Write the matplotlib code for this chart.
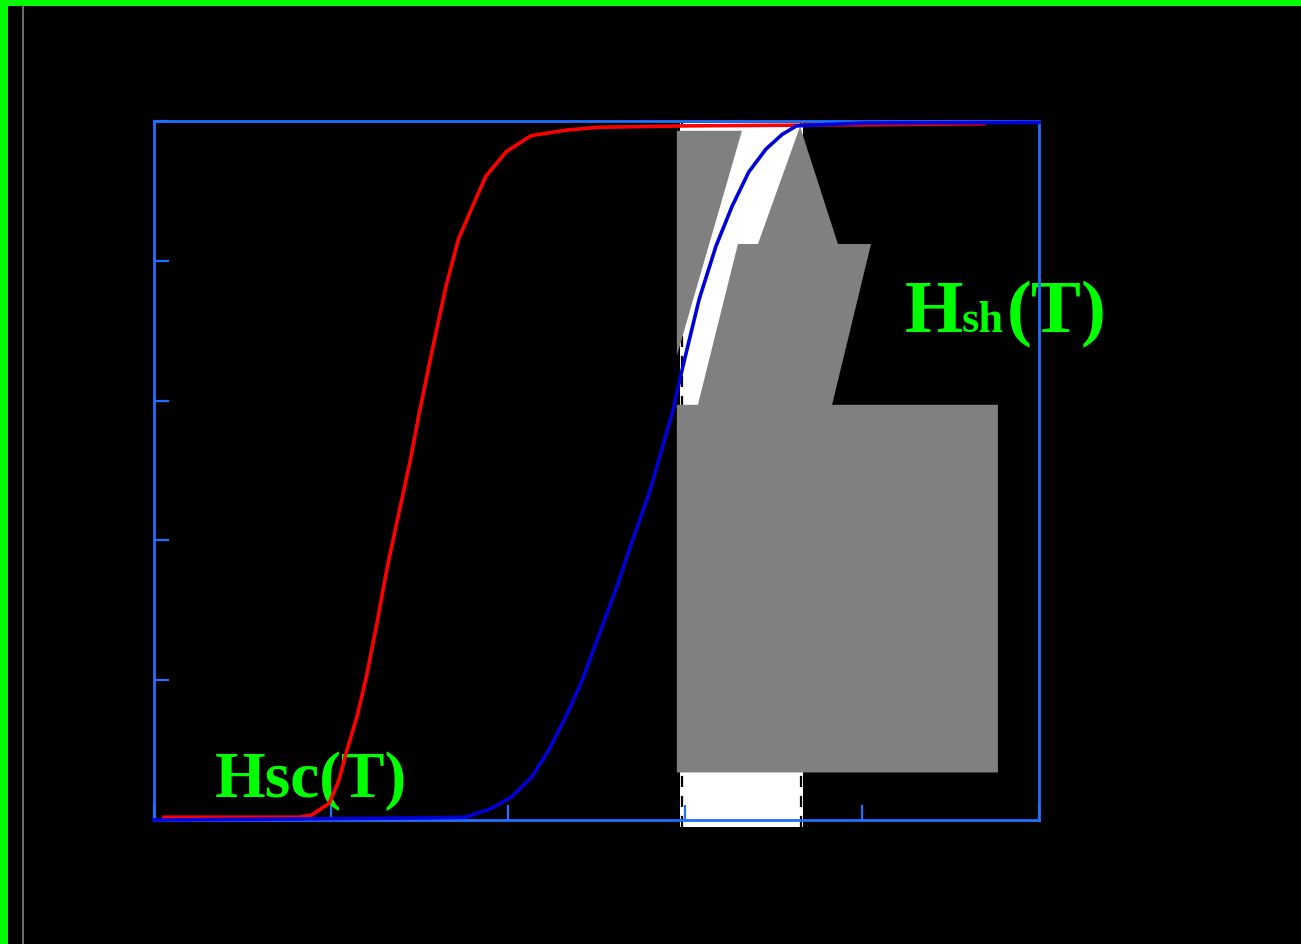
import matplotlib
matplotlib.use("Agg")
import matplotlib.pyplot as plt
from matplotlib.patches import Rectangle, Polygon
from matplotlib.lines import Line2D

# cumulative curves (T, fraction)
t_sc = [5.6, 82, 89, 99, 104.5, 109, 114.7, 120, 126, 131.8, 138.4, 144.6,
        149.7, 157, 165, 172, 180, 187.5, 199, 213, 233, 251, 300, 360, 420, 469]
f_sc = [0.004, 0.004, 0.007, 0.024, 0.057, 0.100, 0.148, 0.205, 0.282, 0.362,
        0.440, 0.512, 0.580, 0.670, 0.764, 0.831, 0.878, 0.921, 0.956, 0.979,
        0.987, 0.991, 0.993, 0.994, 0.995, 0.996]

t_sh = [0, 154, 176, 191, 202, 213.6, 223, 232.7, 242, 251, 261, 270.6, 279.7,
        287, 293, 298.9, 308, 317.5, 326.6, 336, 345.8, 355, 363, 400, 500]
f_sh = [0.0, 0.003, 0.004, 0.017, 0.033, 0.062, 0.100, 0.148, 0.200, 0.262,
        0.330, 0.402, 0.467, 0.531, 0.584, 0.650, 0.745, 0.821, 0.878, 0.927,
        0.960, 0.981, 0.993, 0.997, 0.998]

x_ticks = [0, 100, 200, 300, 400, 500]
x_labels = ["0", "100", "200", "300", "400", "500"]
y_ticks = [0, 0.2, 0.4, 0.6, 0.8, 1.0]
y_labels = ["0", "0.2", "0.4", "0.6", "0.8", "1"]

# highlighted band and the dashed limits
band = [297.2, 366.7]
band_y = [-0.010, 0.997]
dash_x = [298.3, 365.5]

# grey callout shapes (data units)
tri_x = [295.4, 332.2, 295.4]
tri_y = [0.986, 0.986, 0.664]
arrow_x = [295.4, 295.4, 307.3, 329.9, 341.2, 365.0, 386.4, 405.1, 383.1,
           476.8, 476.8]
arrow_y = [0.068, 0.594, 0.594, 0.824, 0.824, 0.992, 0.824, 0.824, 0.594,
           0.594, 0.068]

GREEN = "#00ff00"
SPINE = "#2070ff"
DARK = "#000000"  # text in the original is black on black

fig = plt.figure(figsize=(13.01, 9.45), dpi=100, facecolor="black")
ax = fig.add_axes([154 / 1301, 124 / 945, 885 / 1301, 699 / 945])
ax.set_facecolor("black")
ax.set_xlim(0, 500)
ax.set_ylim(0, 1)

ax.add_patch(Rectangle((band[0], band_y[0]), band[1] - band[0], band_y[1] - band_y[0],
                       facecolor="white", edgecolor="none", zorder=1, clip_on=False))
for xd in dash_x:
    ax.plot([xd, xd], band_y, color="black", linestyle=(0, (5, 4)), linewidth=1.6,
            zorder=1.5, clip_on=False)

ax.add_patch(Polygon(list(zip(tri_x, tri_y)), closed=True, facecolor="#808080",
                     edgecolor="none", zorder=2, clip_on=False))
ax.add_patch(Polygon(list(zip(arrow_x, arrow_y)), closed=True, facecolor="#808080",
                     edgecolor="none", zorder=2, clip_on=False))

ax.plot(t_sc, f_sc, color="#ff0000", linewidth=2.6, zorder=3, clip_on=False)
ax.plot(t_sh, f_sh, color="#0000d8", linewidth=2.6, zorder=3, clip_on=False)

# labels on the plot
ax.text(34.5, 0.034, "Hsc(T)", family="Liberation Serif", fontweight="bold",
        fontsize=47, color=GREEN, zorder=2.4, clip_on=False)
ax.text(424.3, 0.700, "H", family="Liberation Serif", fontweight="bold",
        fontsize=54, color=GREEN, zorder=2.4, clip_on=False)
ax.text(456.5, 0.700, "sh", family="Liberation Serif", fontweight="bold",
        fontsize=32, color=GREEN, zorder=2.4, clip_on=False)
ax.text(481.9, 0.700, "(T)", family="Liberation Serif", fontweight="bold",
        fontsize=54, color=GREEN, zorder=2.4, clip_on=False)
ax.text(385, 0.84, "Region", family="Liberation Serif", fontsize=22,
        color=DARK, zorder=1, ha="center")

for side in ["left", "right", "top", "bottom"]:
    ax.spines[side].set_color(SPINE)
    ax.spines[side].set_linewidth(2.0)
ax.set_xticks(x_ticks)
ax.set_xticklabels(x_labels)
ax.set_yticks(y_ticks)
ax.set_yticklabels(y_labels)
ax.tick_params(direction="in", length=11, width=1.6, color=SPINE,
               labelcolor=DARK, labelsize=26, pad=10)
for lab in ax.get_xticklabels() + ax.get_yticklabels():
    lab.set_family("Liberation Serif")
ax.set_xlabel("T (min)", family="Liberation Serif", fontsize=24, color=DARK)
ax.set_ylabel("Cumulative fraction", family="Liberation Serif", fontsize=24,
              color=DARK)

fig.text(0.42, 0.955, "Onset of hardening", family="Liberation Serif",
         fontsize=24, color=DARK, ha="center")
fig.text(0.42, 0.925, "Cumulative distribution of onset times for the 50 μm",
         family="Liberation Serif", fontsize=24, color=DARK, ha="center")

# slide frame: green bars and a thin grey rule
fig.patches.append(Rectangle((0, 1 - 7 / 945), 1, 7 / 945, transform=fig.transFigure,
                             facecolor=GREEN, edgecolor="none"))
fig.patches.append(Rectangle((0, 0), 7.5 / 1301, 1, transform=fig.transFigure,
                             facecolor=GREEN, edgecolor="none"))
fig.lines.append(Line2D([22.8 / 1301, 22.8 / 1301], [0, 1 - 7 / 945],
                        transform=fig.transFigure, color="#808080", linewidth=1.2))

fig.savefig("out.png", dpi=100, facecolor="black")
